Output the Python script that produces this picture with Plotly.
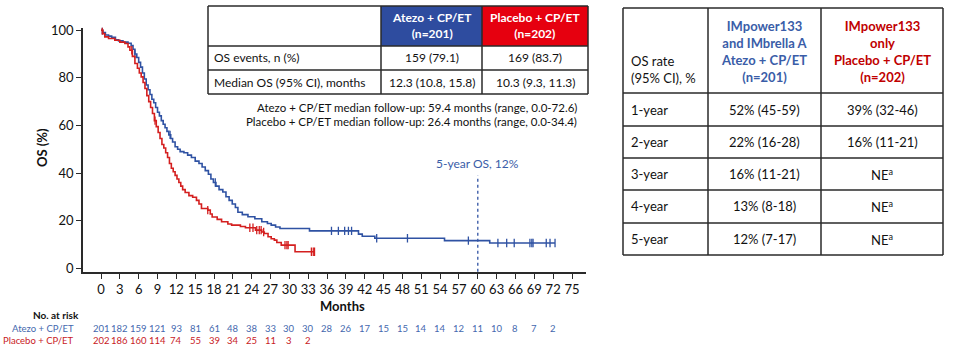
import numpy as np
import plotly.graph_objects as go

W, H = 955, 348
FONT = "Lato"

# ---------------- data ----------------
atezo_t = [0, 0.3, 0.7, 1.2, 1.7, 2.3, 2.8, 3.5, 4.3, 4.8, 5.1, 5.4, 5.7, 6.0, 6.3, 6.6, 6.9, 7.2, 7.5,
           7.8, 8.1, 8.4, 8.7, 9.0, 9.3, 9.6, 9.9, 10.2, 10.5, 10.8, 11.1, 11.4, 11.8, 12.2, 12.6, 13.2,
           13.8, 14.4, 15.0, 15.6, 16.1, 16.6, 17.1, 17.5, 17.9, 18.3, 18.8, 19.4, 19.9, 20.4, 20.9,
           21.4, 21.8, 22.5, 23.4, 24.5, 25.6, 26.5, 27.1, 27.8, 28.5, 33.2, 41.0, 41.6, 43.6, 54.7,
           61.9, 72.3]
atezo_s = [100, 99, 98, 97.5, 97, 96, 95.5, 95, 94.5, 93.5, 92, 90, 88.5, 86.5, 84.5, 82, 79.5, 77, 75,
           73, 71, 69.5, 67.5, 65.5, 64, 62, 60.5, 59, 57.5, 56, 54.5, 53, 51, 50, 49, 48.5,
           47.5, 46.5, 45, 44, 42.5, 41, 39.5, 37.5, 36, 34.5, 33, 32, 30, 28.5, 27,
           25.5, 23.5, 22.5, 21.6, 20.8, 19.5, 18.8, 18.1, 17.3, 16.7, 15.7, 14.3, 13.4, 12.6, 11.6,
           10.6, 10.6]
atezo_cens = [0.2, 5.4, 11.0, 18.2, 36.7, 37.8, 38.8, 39.4, 39.9, 43.9, 48.8, 58.5, 63.2, 64.6, 65.8,
              68.3, 68.6, 68.8, 70.9, 71.5, 72.3]

placebo_t = [0, 0.3, 0.6, 1.2, 2.2, 3.0, 3.8, 4.3, 4.6, 5.0, 5.4, 5.8, 6.1, 6.4, 6.7, 7.0, 7.3, 7.6, 7.9,
             8.2, 8.5, 8.8, 9.1, 9.4, 9.7, 10.0, 10.3, 10.6, 10.9, 11.2, 11.5, 11.8, 12.1, 12.4, 12.7,
             13.0, 13.4, 14.0, 14.6, 15.2, 15.6, 16.0, 17.0, 17.4, 17.7, 18.5, 19.2, 20.2, 20.8, 22.2,
             23.0, 24.6, 25.6, 26.0, 26.6, 27.1, 27.6, 28.0, 28.7, 30.9, 34.0]
placebo_s = [100, 98.5, 97.2, 96.5, 95.8, 95, 94.4, 93, 91.6, 89, 86, 84, 82, 80.4, 78, 75.5, 72.5, 70,
             67.5, 65, 62, 59.5, 57, 54.5, 52, 50.5, 48.5, 46.5, 44, 42, 40.5, 39, 37.5, 36, 34.5,
             33, 31.8, 30.5, 29.8, 28.5, 27, 25.1, 24.4, 22.8, 21.5, 20.5, 19.5, 18.6, 18.1, 17.5,
             17, 16, 15.2, 14.6, 13.2, 12.4, 11.8, 10.8, 9.7, 6.9, 6.9]
placebo_cens = [0.2, 4.9, 8.6, 17.0, 23.7, 24.2, 24.8, 25.2, 25.5, 25.9, 29.3, 29.6, 29.8, 33.5, 33.8, 34.0]

x_ticks = list(range(0, 76, 3))
y_ticks = [0, 20, 40, 60, 80, 100]
risk_times = list(range(0, 73, 3))
risk_atezo = [201, 182, 159, 121, 93, 81, 61, 48, 38, 33, 30, 30, 28, 26, 17, 15, 15, 14, 14, 12, 11, 10, 8, 7, 2]
risk_placebo = [202, 186, 160, 114, 74, 55, 39, 34, 25, 11, 3, 2]

arm_names = ["Atezo + CP/ET", "Placebo + CP/ET"]
arm_n = ["(n=201)", "(n=202)"]
table1_rows = ["OS events, n (%)", "Median OS (95% CI), months"]
table1_atezo = ["159 (79.1)", "12.3 (10.8, 15.8)"]
table1_placebo = ["169 (83.7)", "10.3 (9.3, 11.3)"]
followup = ["Atezo + CP/ET median follow-up: 59.4 months (range, 0.0-72.6)",
            "Placebo + CP/ET median follow-up: 26.4 months (range, 0.0-34.4)"]

table2_rows = ["1-year", "2-year", "3-year", "4-year", "5-year"]
table2_atezo = ["52% (45-59)", "22% (16-28)", "16% (11-21)", "13% (8-18)", "12% (7-17)"]
table2_placebo = ["39% (32-46)", "16% (11-21)", "NE<sup>a</sup>", "NE<sup>a</sup>", "NE<sup>a</sup>"]
table2_head = ["OS rate<br>(95% CI), %",
               "IMpower133<br>and IMbrella A<br>Atezo + CP/ET<br>(n=201)",
               "IMpower133<br>only<br>Placebo + CP/ET<br>(n=202)"]

five_year_month = 60
five_year_label = "5-year OS, 12%"
five_year_top = 39

# ---------------- styles ----------------
BLUE = "#2F52A3"
RED = "#D41F1F"
HEAD_BLUE = "#2E4C9F"
HEAD_RED = "#E6000F"
TXT_BLUE = "#3A5DA8"
TXT_RED = "#C00000"
RISK_BLUE = "#4468AE"
RISK_RED = "#C8201E"
AX = "#2a2a2a"

def P(x):
    return x / W

def Q(y):
    return 1 - y / H

fig = go.Figure()

def step_at(ts, ss, t):
    idx = np.searchsorted(np.array(ts), t, side="right") - 1
    return np.array(ss)[idx]

for ts, ss, cens, col in [(atezo_t, atezo_s, atezo_cens, BLUE), (placebo_t, placebo_s, placebo_cens, RED)]:
    fig.add_trace(go.Scatter(x=ts, y=ss, mode="lines", line=dict(color=col, width=1.6, shape="hv"),
                             showlegend=False, hoverinfo="skip"))
    fig.add_trace(go.Scatter(x=cens, y=step_at(ts, ss, cens), mode="markers",
                             marker=dict(symbol="line-ns", size=6, line=dict(color=col, width=1.3)),
                             showlegend=False, hoverinfo="skip"))

# 5-year dashed line
fig.add_trace(go.Scatter(x=[five_year_month, five_year_month], y=[-1.5, five_year_top], mode="lines",
                         line=dict(color=BLUE, width=1.3, dash="3px,3px"), showlegend=False, hoverinfo="skip"))

shapes = []
ann = []

# axis plot area pixels
X0_PX, X1_PX = 83, 586
Y0_PX, Y1_PX = 27.7, 272
PX_PER_MONTH = 6.28
ZERO_PX = 101
x_range = [(X0_PX - ZERO_PX) / PX_PER_MONTH, (X1_PX - ZERO_PX) / PX_PER_MONTH]
PX_PER_PCT = 2.38
YZERO_PX = 268.2
y_range = [(YZERO_PX - Y1_PX) / PX_PER_PCT, (YZERO_PX - Y0_PX) / PX_PER_PCT]

ann.append(dict(x=five_year_month, y=Q(163), xref="x", yref="paper", text=five_year_label,
                showarrow=False, font=dict(family=FONT, size=12, color=TXT_BLUE), xanchor="center", yanchor="middle"))

# ---- table 1 ----
tx = [208, 381, 482, 588]
ty = [6, 46, 70, 94]
shapes.append(dict(type="rect", xref="paper", yref="paper", x0=P(tx[1]), x1=P(tx[2]), y0=Q(ty[0]), y1=Q(ty[1]),
                   fillcolor=HEAD_BLUE, line=dict(width=0), layer="below"))
shapes.append(dict(type="rect", xref="paper", yref="paper", x0=P(tx[2]), x1=P(tx[3]), y0=Q(ty[0]), y1=Q(ty[1]),
                   fillcolor=HEAD_RED, line=dict(width=0), layer="below"))
for xv in tx:
    shapes.append(dict(type="line", xref="paper", yref="paper", x0=P(xv), x1=P(xv), y0=Q(ty[0]), y1=Q(ty[-1]),
                       line=dict(color=AX, width=1.5)))
for yv in ty:
    shapes.append(dict(type="line", xref="paper", yref="paper", x0=P(tx[0]), x1=P(tx[-1]), y0=Q(yv), y1=Q(yv),
                       line=dict(color=AX, width=1.5)))
for i in range(2):
    cx = (tx[i + 1] + tx[i + 2]) / 2
    ann.append(dict(x=P(cx), y=Q((ty[0] + ty[1]) / 2), xref="paper", yref="paper",
                    text=f"<b>{arm_names[i]}<br>{arm_n[i]}</b>", showarrow=False,
                    font=dict(family=FONT, size=12, color="white"), xanchor="center", yanchor="middle"))
for r in range(2):
    cy = (ty[r + 1] + ty[r + 2]) / 2
    ann.append(dict(x=P(tx[0] + 4), y=Q(cy), xref="paper", yref="paper", text=table1_rows[r], showarrow=False,
                    font=dict(family=FONT, size=12, color="#111"), xanchor="left", yanchor="middle"))
    for c, vals in enumerate([table1_atezo, table1_placebo]):
        cx = (tx[c + 1] + tx[c + 2]) / 2
        ann.append(dict(x=P(cx), y=Q(cy), xref="paper", yref="paper", text=vals[r], showarrow=False,
                        font=dict(family=FONT, size=12, color="#111"), xanchor="center", yanchor="middle"))
for i, txt in enumerate(followup):
    ann.append(dict(x=P(579), y=Q(107 + 14.5 * i), xref="paper", yref="paper", text=txt, showarrow=False,
                    font=dict(family=FONT, size=11.5, color="#111"), xanchor="right", yanchor="middle"))

# ---- table 2 ----
sx = [623, 708, 821, 943]
sy = [8, 93, 126, 158, 190, 223, 255]
for xv in sx:
    shapes.append(dict(type="line", xref="paper", yref="paper", x0=P(xv), x1=P(xv), y0=Q(sy[0]), y1=Q(sy[-1]),
                       line=dict(color=AX, width=1.5)))
for yv in sy:
    shapes.append(dict(type="line", xref="paper", yref="paper", x0=P(sx[0]), x1=P(sx[-1]), y0=Q(yv), y1=Q(yv),
                       line=dict(color=AX, width=1.5)))
ann.append(dict(x=P(sx[0] + 6), y=Q(69), xref="paper", yref="paper", text=table2_head[0], showarrow=False,
                font=dict(family=FONT, size=13, color="#111"), xanchor="left", yanchor="middle", align="left"))
for c, col in enumerate([TXT_BLUE, TXT_RED]):
    cx = (sx[c + 1] + sx[c + 2]) / 2
    ann.append(dict(x=P(cx), y=Q(51.5), xref="paper", yref="paper", text=f"<b>{table2_head[c + 1]}</b>",
                    showarrow=False, font=dict(family=FONT, size=13, color=col), xanchor="center",
                    yanchor="middle", align="center"))
for r in range(5):
    cy = (sy[r + 1] + sy[r + 2]) / 2
    ann.append(dict(x=P(sx[0] + 6), y=Q(cy), xref="paper", yref="paper", text=table2_rows[r], showarrow=False,
                    font=dict(family=FONT, size=13, color="#111"), xanchor="left", yanchor="middle"))
    for c, vals in enumerate([table2_atezo, table2_placebo]):
        cx = (sx[c + 1] + sx[c + 2]) / 2
        ann.append(dict(x=P(cx), y=Q(cy), xref="paper", yref="paper", text=vals[r], showarrow=False,
                        font=dict(family=FONT, size=13, color="#111"), xanchor="center", yanchor="middle"))

# ---- titles & number at risk ----
ann.append(dict(x=P(42), y=Q(148), xref="paper", yref="paper", text="<b>OS (%)</b>", textangle=-90,
                showarrow=False, font=dict(family=FONT, size=13, color="#111"), xanchor="center", yanchor="middle"))
ann.append(dict(x=P(342), y=Q(306), xref="paper", yref="paper", text="<b>Months</b>",
                showarrow=False, font=dict(family=FONT, size=13, color="#111"), xanchor="center", yanchor="middle"))
ann.append(dict(x=P(81), y=Q(315), xref="paper", yref="paper", text="<b>No. at risk</b>",
                showarrow=False, font=dict(family=FONT, size=10, color="#111"), xanchor="right", yanchor="middle"))
for name, risks, col, ypx in [(arm_names[0], risk_atezo, RISK_BLUE, 328), (arm_names[1], risk_placebo, RISK_RED, 340)]:
    ann.append(dict(x=P(76), y=Q(ypx), xref="paper", yref="paper", text=name, showarrow=False,
                    font=dict(family=FONT, size=9.5, color=col), xanchor="right", yanchor="middle"))
    for t, v in zip(risk_times, risks):
        ann.append(dict(x=t, y=Q(ypx), xref="x", yref="paper", text=str(v), showarrow=False,
                        font=dict(family=FONT, size=9.5, color=col), xanchor="center", yanchor="middle"))

fig.update_layout(
    width=W, height=H, margin=dict(l=0, r=0, t=0, b=0), paper_bgcolor="white", plot_bgcolor="white",
    shapes=shapes, annotations=ann, showlegend=False,
    xaxis=dict(domain=[P(X0_PX), P(X1_PX)], range=x_range, tickvals=x_ticks, ticks="outside", ticklen=5,
               tickwidth=1.3, tickcolor=AX, showline=True, linecolor=AX, linewidth=1.5, showgrid=False,
               zeroline=False, automargin=False, tickfont=dict(family=FONT, size=13, color="#111")),
    yaxis=dict(domain=[Q(Y1_PX), Q(Y0_PX)], range=y_range, tickvals=y_ticks, ticks="outside", ticklen=5,
               tickwidth=1.3, tickcolor=AX, showline=True, linecolor=AX, linewidth=1.5, showgrid=False,
               zeroline=False, automargin=False, tickfont=dict(family=FONT, size=13, color="#111")),
)

fig.write_html("out.html")
